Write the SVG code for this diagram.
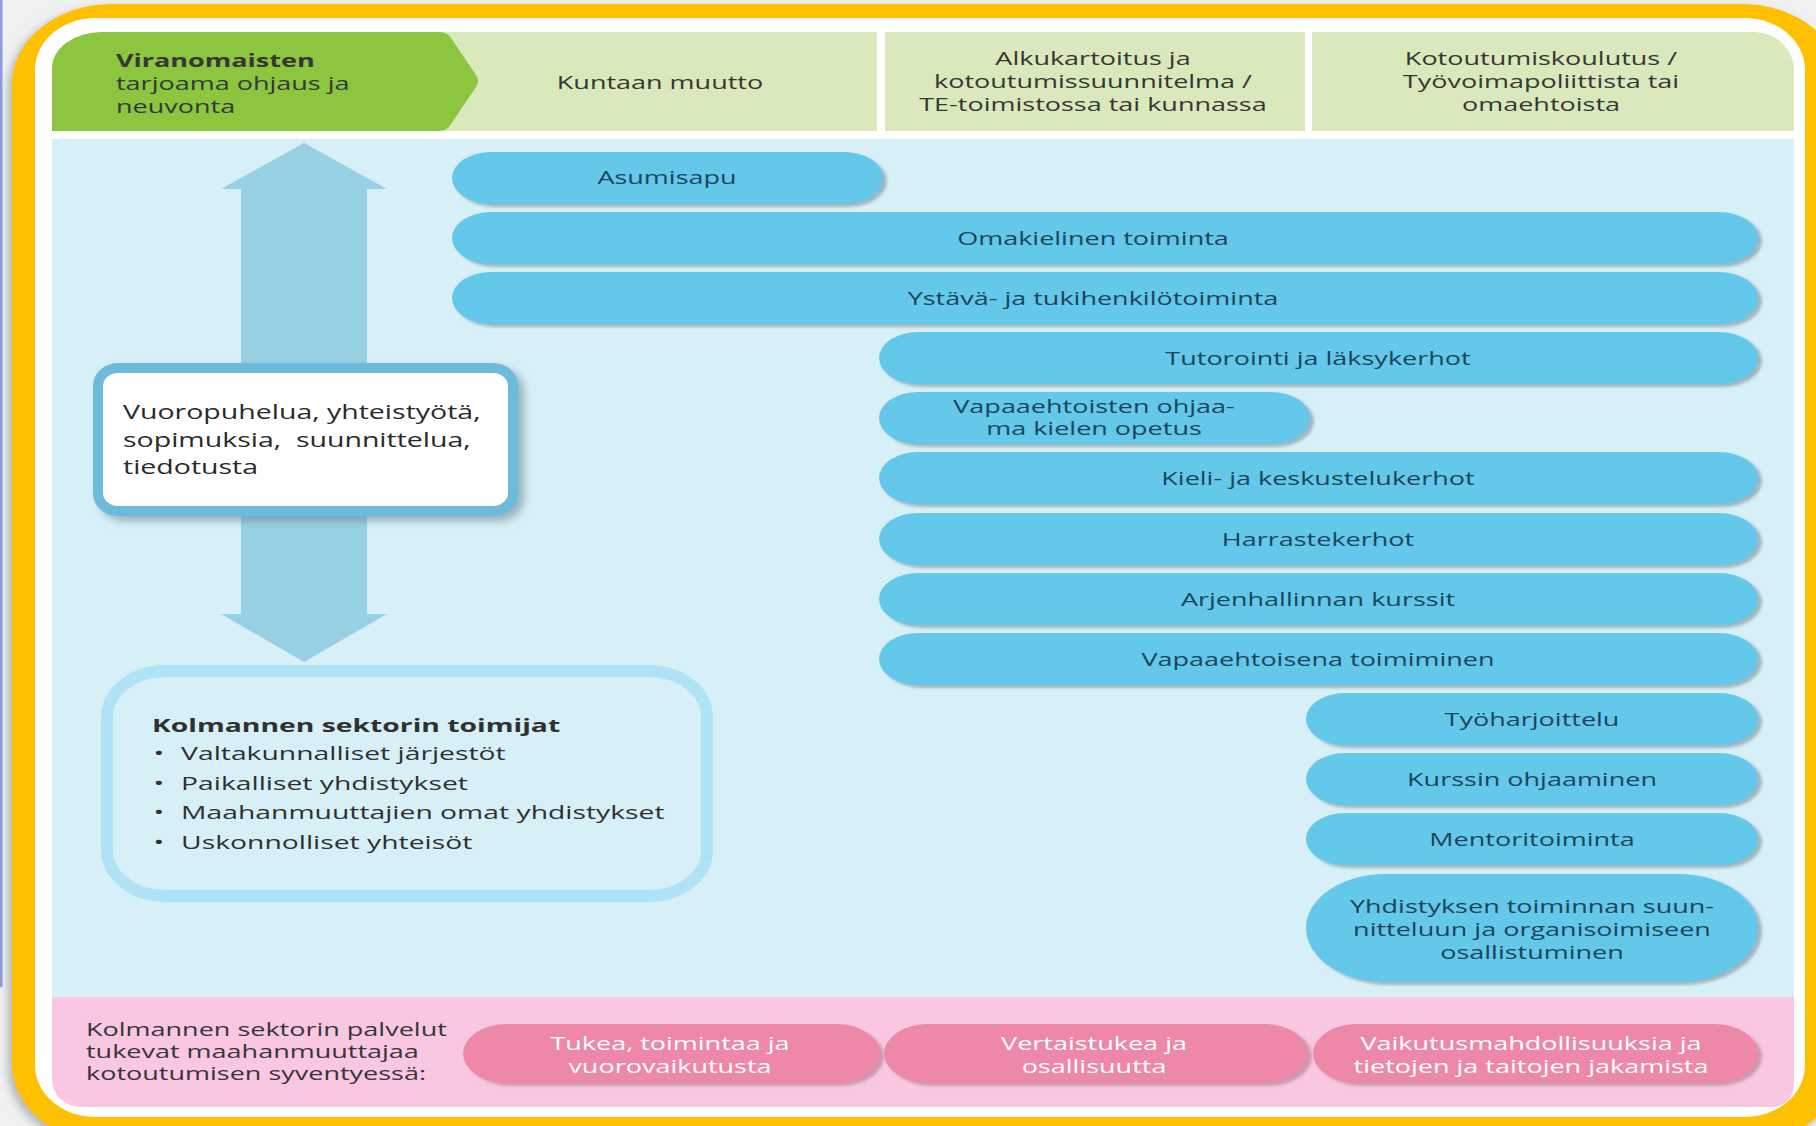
<svg xmlns="http://www.w3.org/2000/svg" width="1816" height="1126" viewBox="0 0 1816 1126">
<defs>
<style>
text{font-family:"Open Sans","Noto Sans","DejaVu Sans",sans-serif}
.hd{font-size:18px;fill:#363636}
.hb{font-weight:bold}
.pill{fill:#63C8EA}
.pt{font-size:18px;fill:#1c4559}
.pk{fill:#EE88A8}
.pkt{font-size:18px;fill:#ffffff}
.lt{font-size:18px;fill:#363636}
.kt{font-size:18.5px;fill:#303030}
.vt{font-size:20.5px;fill:#2a2a2a}
</style>
<filter id="sh" x="-5%" y="-20%" width="112%" height="150%">
<feDropShadow dx="4" dy="3" stdDeviation="1.8" flood-color="#6f8790" flood-opacity="0.55"/>
</filter>
<filter id="shp" x="-5%" y="-20%" width="112%" height="150%">
<feDropShadow dx="4" dy="3" stdDeviation="1.8" flood-color="#9a6c82" flood-opacity="0.5"/>
</filter>
<filter id="shb" x="-10%" y="-10%" width="125%" height="130%">
<feDropShadow dx="6" dy="5" stdDeviation="4" flood-color="#5f7d8a" flood-opacity="0.55"/>
</filter>
<filter id="shy" x="-5%" y="-5%" width="110%" height="110%">
<feDropShadow dx="-4" dy="4" stdDeviation="5" flood-color="#808080" flood-opacity="0.55"/>
</filter>
</defs>

<g id="frame">
<rect x="0" y="0" width="1816" height="1126" fill="#F1F1F1"/>
<rect x="0" y="0" width="2.5" height="987" fill="#8A9CE6"/>
<rect x="12" y="4" width="1830" height="1140" rx="100" ry="80" fill="#FFC000" filter="url(#shy)"/>
<rect x="35" y="18" width="1770" height="1099" rx="60" ry="52" fill="#FFFFFF"/>
<rect x="52" y="139" width="1742" height="858" fill="#D7F0F8"/>
<path d="M52,997 H1794 V1085 A22 22 0 0 1 1772 1107 H80 A28 28 0 0 1 52 1079 Z" fill="#F9C7E2"/>
</g>

<g id="header">
<g id="header-col1">
<rect x="300" y="32" width="577" height="99" fill="#DAE9BB"/>
<text class="hd" transform="translate(660,89) scale(1.5,1)" text-anchor="middle">Kuntaan muutto</text>
</g>
<g id="header-col2">
<rect x="885" y="32" width="420" height="99" fill="#DAE9BB"/>
<text class="hd" transform="translate(1093,0) scale(1.5,1)" text-anchor="middle"><tspan x="0" y="65">Alkukartoitus ja</tspan><tspan x="0" y="88">kotoutumissuunnitelma /</tspan><tspan x="0" y="111">TE-toimistossa tai kunnassa</tspan></text>
</g>
<g id="header-col3">
<path d="M1312,32 H1754 A40 38 0 0 1 1794 70 V131 H1312 Z" fill="#DAE9BB"/>
<text class="hd" transform="translate(1541,0) scale(1.5,1)" text-anchor="middle"><tspan x="0" y="65">Kotoutumiskoulutus /</tspan><tspan x="0" y="88">Työvoimapoliittista tai</tspan><tspan x="0" y="111">omaehtoista</tspan></text>
</g>
<g id="header-authority">
<path d="M102,32 H440 Q447,32 451,38 L476,75 Q480,81 476,87 L451,124 Q447,131 440,131 H52 V68 A50 36 0 0 1 102 32 Z" fill="#8CC63F"/>
<text class="hd" transform="translate(116,0) scale(1.5,1)"><tspan class="hb" x="0" y="67">Viranomaisten</tspan><tspan x="0" y="90">tarjoama ohjaus ja</tspan><tspan x="0" y="113">neuvonta</tspan></text>
</g>
</g>

<g id="connectors">
<path d="M304,143 L387,189 L367,189 L367,614 L387,614 L304,662 L221,614 L241,614 L241,189 L221,189 Z" fill="#98D0E4"/>
</g>

<g id="node-dialogue">
<rect x="98" y="368" width="415" height="143" rx="20" ry="18" fill="#FFFFFF" stroke="#6CBBDC" stroke-width="10" filter="url(#shb)"/>
<text class="vt" xml:space="preserve" transform="translate(123,0) scale(1.39,1)"><tspan x="0" y="419">Vuoropuhelua, yhteistyötä,</tspan><tspan x="0" y="447">sopimuksia,  suunnittelua,</tspan><tspan x="0" y="474">tiedotusta</tspan></text>
</g>

<g id="node-actors">
<rect x="107" y="671" width="600" height="225" rx="58" ry="46" fill="#D7F0F8" stroke="#B1E3F6" stroke-width="12"/>
<text class="kt" transform="translate(152,0) scale(1.53,1)"><tspan class="hb" x="0" y="732">Kolmannen sektorin toimijat</tspan><tspan x="1" y="760">•</tspan><tspan x="19" y="760">Valtakunnalliset järjestöt</tspan><tspan x="1" y="790">•</tspan><tspan x="19" y="790">Paikalliset yhdistykset</tspan><tspan x="1" y="819">•</tspan><tspan x="19" y="819">Maahanmuuttajien omat yhdistykset</tspan><tspan x="1" y="849">•</tspan><tspan x="19" y="849">Uskonnolliset yhteisöt</tspan></text>
</g>

<g id="pill-asumisapu">
<rect class="pill" x="452" y="152" width="431" height="52" rx="39" ry="26" filter="url(#sh)"/>
<text class="pt" transform="translate(667,184) scale(1.5,1)" text-anchor="middle">Asumisapu</text>
</g>
<g id="pill-omakielinen">
<rect class="pill" x="452" y="212" width="1306" height="52" rx="39" ry="26" filter="url(#sh)"/>
<text class="pt" transform="translate(1093,245) scale(1.5,1)" text-anchor="middle">Omakielinen toiminta</text>
</g>
<g id="pill-ystava">
<rect class="pill" x="452" y="272" width="1306" height="52" rx="39" ry="26" filter="url(#sh)"/>
<text class="pt" transform="translate(1093,305) scale(1.5,1)" text-anchor="middle">Ystävä- ja tukihenkilötoiminta</text>
</g>
<g id="pill-tutorointi">
<rect class="pill" x="879" y="332" width="879" height="52" rx="39" ry="26" filter="url(#sh)"/>
<text class="pt" transform="translate(1318,365) scale(1.5,1)" text-anchor="middle">Tutorointi ja läksykerhot</text>
</g>
<g id="pill-vapaaehtoisten">
<rect class="pill" x="879" y="392" width="431" height="52" rx="39" ry="26" filter="url(#sh)"/>
<text class="pt" transform="translate(1094,0) scale(1.5,1)" text-anchor="middle"><tspan x="0" y="413">Vapaaehtoisten ohjaa-</tspan><tspan x="0" y="435">ma kielen opetus</tspan></text>
</g>
<g id="pill-kieli">
<rect class="pill" x="879" y="452" width="879" height="52" rx="39" ry="26" filter="url(#sh)"/>
<text class="pt" transform="translate(1318,485) scale(1.5,1)" text-anchor="middle">Kieli- ja keskustelukerhot</text>
</g>
<g id="pill-harraste">
<rect class="pill" x="879" y="513" width="879" height="52" rx="39" ry="26" filter="url(#sh)"/>
<text class="pt" transform="translate(1318,546) scale(1.5,1)" text-anchor="middle">Harrastekerhot</text>
</g>
<g id="pill-arjenhallinta">
<rect class="pill" x="879" y="573" width="879" height="52" rx="39" ry="26" filter="url(#sh)"/>
<text class="pt" transform="translate(1318,606) scale(1.5,1)" text-anchor="middle">Arjenhallinnan kurssit</text>
</g>
<g id="pill-vapaaehtoisena">
<rect class="pill" x="879" y="633" width="879" height="52" rx="39" ry="26" filter="url(#sh)"/>
<text class="pt" transform="translate(1318,666) scale(1.5,1)" text-anchor="middle">Vapaaehtoisena toimiminen</text>
</g>
<g id="pill-tyoharjoittelu">
<rect class="pill" x="1306" y="693" width="452" height="52" rx="39" ry="26" filter="url(#sh)"/>
<text class="pt" transform="translate(1532,726) scale(1.5,1)" text-anchor="middle">Työharjoittelu</text>
</g>
<g id="pill-kurssin">
<rect class="pill" x="1306" y="753" width="452" height="52" rx="39" ry="26" filter="url(#sh)"/>
<text class="pt" transform="translate(1532,786) scale(1.5,1)" text-anchor="middle">Kurssin ohjaaminen</text>
</g>
<g id="pill-mentori">
<rect class="pill" x="1306" y="813" width="452" height="52" rx="39" ry="26" filter="url(#sh)"/>
<text class="pt" transform="translate(1532,846) scale(1.5,1)" text-anchor="middle">Mentoritoiminta</text>
</g>
<g id="pill-yhdistys">
<rect class="pill" x="1306" y="874" width="452" height="108" rx="80" ry="54" filter="url(#sh)"/>
<text class="pt" transform="translate(1532,0) scale(1.5,1)" text-anchor="middle"><tspan x="0" y="913">Yhdistyksen toiminnan suun-</tspan><tspan x="0" y="936">nitteluun ja organisoimiseen</tspan><tspan x="0" y="959">osallistuminen</tspan></text>
</g>

<g id="services-label">
<text class="lt" transform="translate(86,0) scale(1.5,1)"><tspan x="0" y="1036">Kolmannen sektorin palvelut</tspan><tspan x="0" y="1058">tukevat maahanmuuttajaa</tspan><tspan x="0" y="1080">kotoutumisen syventyessä:</tspan></text>
</g>
<g id="pink-tukea">
<rect class="pk" x="463" y="1024" width="417" height="59" rx="44" ry="29.5" filter="url(#shp)"/>
<text class="pkt" transform="translate(670,0) scale(1.5,1)" text-anchor="middle"><tspan x="0" y="1050">Tukea, toimintaa ja</tspan><tspan x="0" y="1073">vuorovaikutusta</tspan></text>
</g>
<g id="pink-vertaistukea">
<rect class="pk" x="884" y="1024" width="424" height="59" rx="44" ry="29.5" filter="url(#shp)"/>
<text class="pkt" transform="translate(1094,0) scale(1.5,1)" text-anchor="middle"><tspan x="0" y="1050">Vertaistukea ja</tspan><tspan x="0" y="1073">osallisuutta</tspan></text>
</g>
<g id="pink-vaikutus">
<rect class="pk" x="1313" y="1024" width="445" height="59" rx="44" ry="29.5" filter="url(#shp)"/>
<text class="pkt" transform="translate(1531,0) scale(1.5,1)" text-anchor="middle"><tspan x="0" y="1050">Vaikutusmahdollisuuksia ja</tspan><tspan x="0" y="1073">tietojen ja taitojen jakamista</tspan></text>
</g>
</svg>
